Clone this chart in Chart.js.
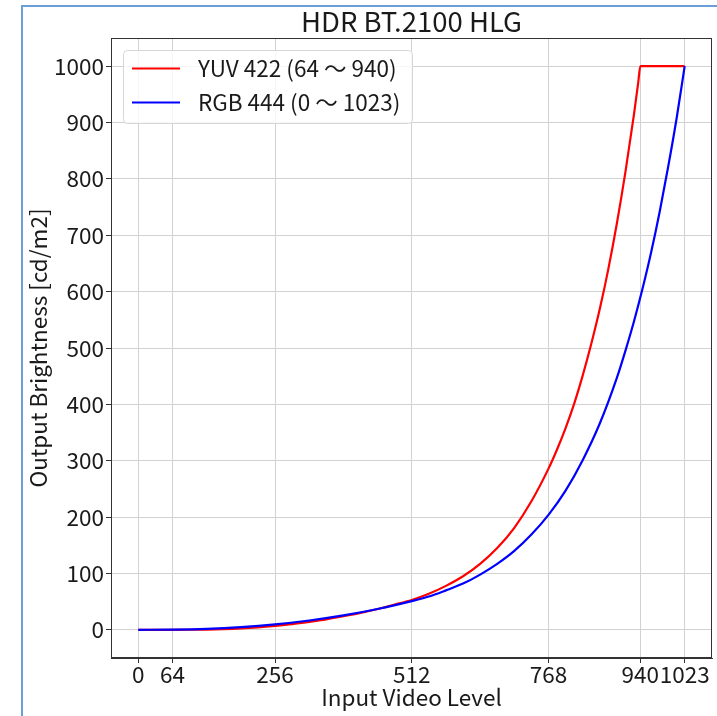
<!DOCTYPE html>
<html>
<head>
<meta charset="utf-8">
<title>HDR BT.2100 HLG</title>
<script src="https://cdn.jsdelivr.net/npm/chart.js@4.4.0/dist/chart.umd.min.js"></script>
<style>
  html, body { margin: 0; padding: 0; background: #fff; }
  #wrap { position: relative; width: 717px; height: 716px; }
  #marco { position: absolute; left: 21px; top: 5px; right: 0; bottom: 0;
           border-left: 2px solid #6a9fd9; border-top: 2px solid #6a9fd9; pointer-events: none; }
  canvas { position: absolute; left: 0; top: 0; }
</style>
</head>
<body>
<div id="wrap">
  <canvas id="grafico" width="717" height="716"></canvas>
  <div id="marco"></div>
</div>
<script>
const chartTitle = "HDR BT.2100 HLG";
const xTitle = "Input Video Level";
const yTitle = "Output Brightness [cd/m2]";
const xTicks = [0, 64, 256, 512, 768, 940, 1023];
const yTicks = [0, 100, 200, 300, 400, 500, 600, 700, 800, 900, 1000];

// YUV 422 (64 ~ 940)
const yuvLabel = "YUV 422 (64 〜 940)";
const yuvLevels = [0, 64, 96, 128, 160, 192, 224, 256, 288, 320, 352, 384, 416, 448, 480, 512,
  544, 576, 608, 640, 672, 704, 736, 768, 784, 800, 816, 832, 848, 864, 880, 896, 912, 928, 936, 940, 1023];
const yuvBrightness = [0, 0, 0.1, 0.5, 1.3, 2.6, 4.5, 7, 10, 14, 18.5, 24, 30, 37, 45, 53,
  64, 78, 95, 117, 145, 181, 228, 286, 320, 358, 401, 451, 507, 569, 640, 721, 812, 914, 971, 1000, 1000];

// RGB 444 (0 ~ 1023)
const rgbLabel = "RGB 444 (0 〜 1023)";
const rgbLevels = [0, 64, 128, 192, 256, 320, 384, 448, 512, 544, 576, 608, 640, 672, 704, 736,
  768, 800, 832, 864, 896, 912, 928, 944, 960, 976, 992, 1008, 1023];
const rgbBrightness = [0, 0.4, 1.8, 4.8, 9.6, 16.5, 25.5, 37, 51, 59, 70, 82, 98, 117, 140, 169,
  204, 247, 301, 366, 447, 495, 547, 605, 669, 741, 821, 908, 1000];

(function () {
  const fontFam = '"Noto Sans CJK JP", "Noto Sans", sans-serif';
  const textColor = "#1a1a1a";
  const fs = 22.5;
  Chart.defaults.font.family = fontFam;
  Chart.defaults.color = textColor;

  const toPoints = (xs, ys) => xs.map((x, i) => ({ x: x, y: ys[i] }));

  // titulo centrado sobre el area del grafico, marco y leyenda
  const extras = {
    id: "extras",
    afterDatasetsDraw(chart) {
      const { ctx, chartArea: a } = chart;
      ctx.save();
      ctx.strokeStyle = "#333";
      ctx.lineWidth = 1;
      ctx.strokeRect(a.left + 0.5, a.top + 0.5, a.right - a.left - 1, a.bottom - a.top - 1);

      // leyenda
      const lx = a.left + 12, ly = a.top + 12, lw = 289, lh = 73;
      ctx.beginPath();
      ctx.roundRect(lx + 0.5, ly + 0.5, lw, lh, 4);
      ctx.fillStyle = "rgba(255,255,255,0.8)";
      ctx.fill();
      ctx.strokeStyle = "#d6d6d6";
      ctx.stroke();
      ctx.font = fs + "px " + fontFam;
      ctx.textBaseline = "middle";
      ctx.textAlign = "left";
      chart.data.datasets.forEach((ds, i) => {
        const cy = ly + 18.5 + i * 34;
        ctx.beginPath();
        ctx.moveTo(lx + 9, cy);
        ctx.lineTo(lx + 57, cy);
        ctx.strokeStyle = ds.borderColor;
        ctx.lineWidth = 2.2;
        ctx.stroke();
        ctx.fillStyle = textColor;
        ctx.fillText(ds.label, lx + 75, cy);
      });

      ctx.font = "27.5px " + fontFam;
      ctx.textAlign = "center";
      ctx.fillText(chartTitle, (a.left + a.right) / 2, 22);
      ctx.restore();
    }
  };

  const ctx = document.getElementById("grafico").getContext("2d");
  new Chart(ctx, {
    type: "line",
    data: {
      datasets: [
        {
          label: yuvLabel,
          data: toPoints(yuvLevels, yuvBrightness),
          borderColor: "#ff0000",
          borderWidth: 2.2,
          pointRadius: 0,
          cubicInterpolationMode: "monotone",
          order: 1
        },
        {
          label: rgbLabel,
          data: toPoints(rgbLevels, rgbBrightness),
          borderColor: "#0000ff",
          borderWidth: 2.2,
          pointRadius: 0,
          cubicInterpolationMode: "monotone",
          order: 0
        }
      ]
    },
    options: {
      responsive: false,
      animation: false,
      layout: { padding: { top: 38, right: 5, left: 0, bottom: 0 } },
      plugins: {
        legend: { display: false },
        title: { display: false },
        tooltip: { enabled: false }
      },
      scales: {
        x: {
          type: "linear",
          min: -51.15,
          max: 1074.15,
          afterBuildTicks: (s) => { s.ticks = xTicks.map((v) => ({ value: v })); },
          afterFit: (s) => { s.height = 58; },
          ticks: {
            autoSkip: false,
            maxRotation: 0,
            minRotation: 0,
            padding: 0,
            font: { size: fs, lineHeight: 1 },
            callback: (v) => String(v)
          },
          grid: { color: "#d2d2d2", lineWidth: 1, tickLength: 5, tickColor: "#333" },
          border: { display: true, color: "#333", width: 1 },
          title: { display: true, text: xTitle, font: { size: fs }, padding: { top: 0, bottom: 5.5 } }
        },
        y: {
          type: "linear",
          min: -50,
          max: 1050,
          afterBuildTicks: (s) => { s.ticks = yTicks.map((v) => ({ value: v })); },
          afterFit: (s) => { s.width = 111; },
          ticks: {
            padding: 2,
            font: { size: fs },
            callback: (v) => String(v)
          },
          grid: { color: "#d2d2d2", lineWidth: 1, tickLength: 5, tickColor: "#333" },
          border: { display: true, color: "#333", width: 1 },
          title: { display: true, text: yTitle, font: { size: fs }, padding: { top: 24.5, bottom: 0 } }
        }
      }
    },
    plugins: [extras]
  });
})();
</script>
</body>
</html>
